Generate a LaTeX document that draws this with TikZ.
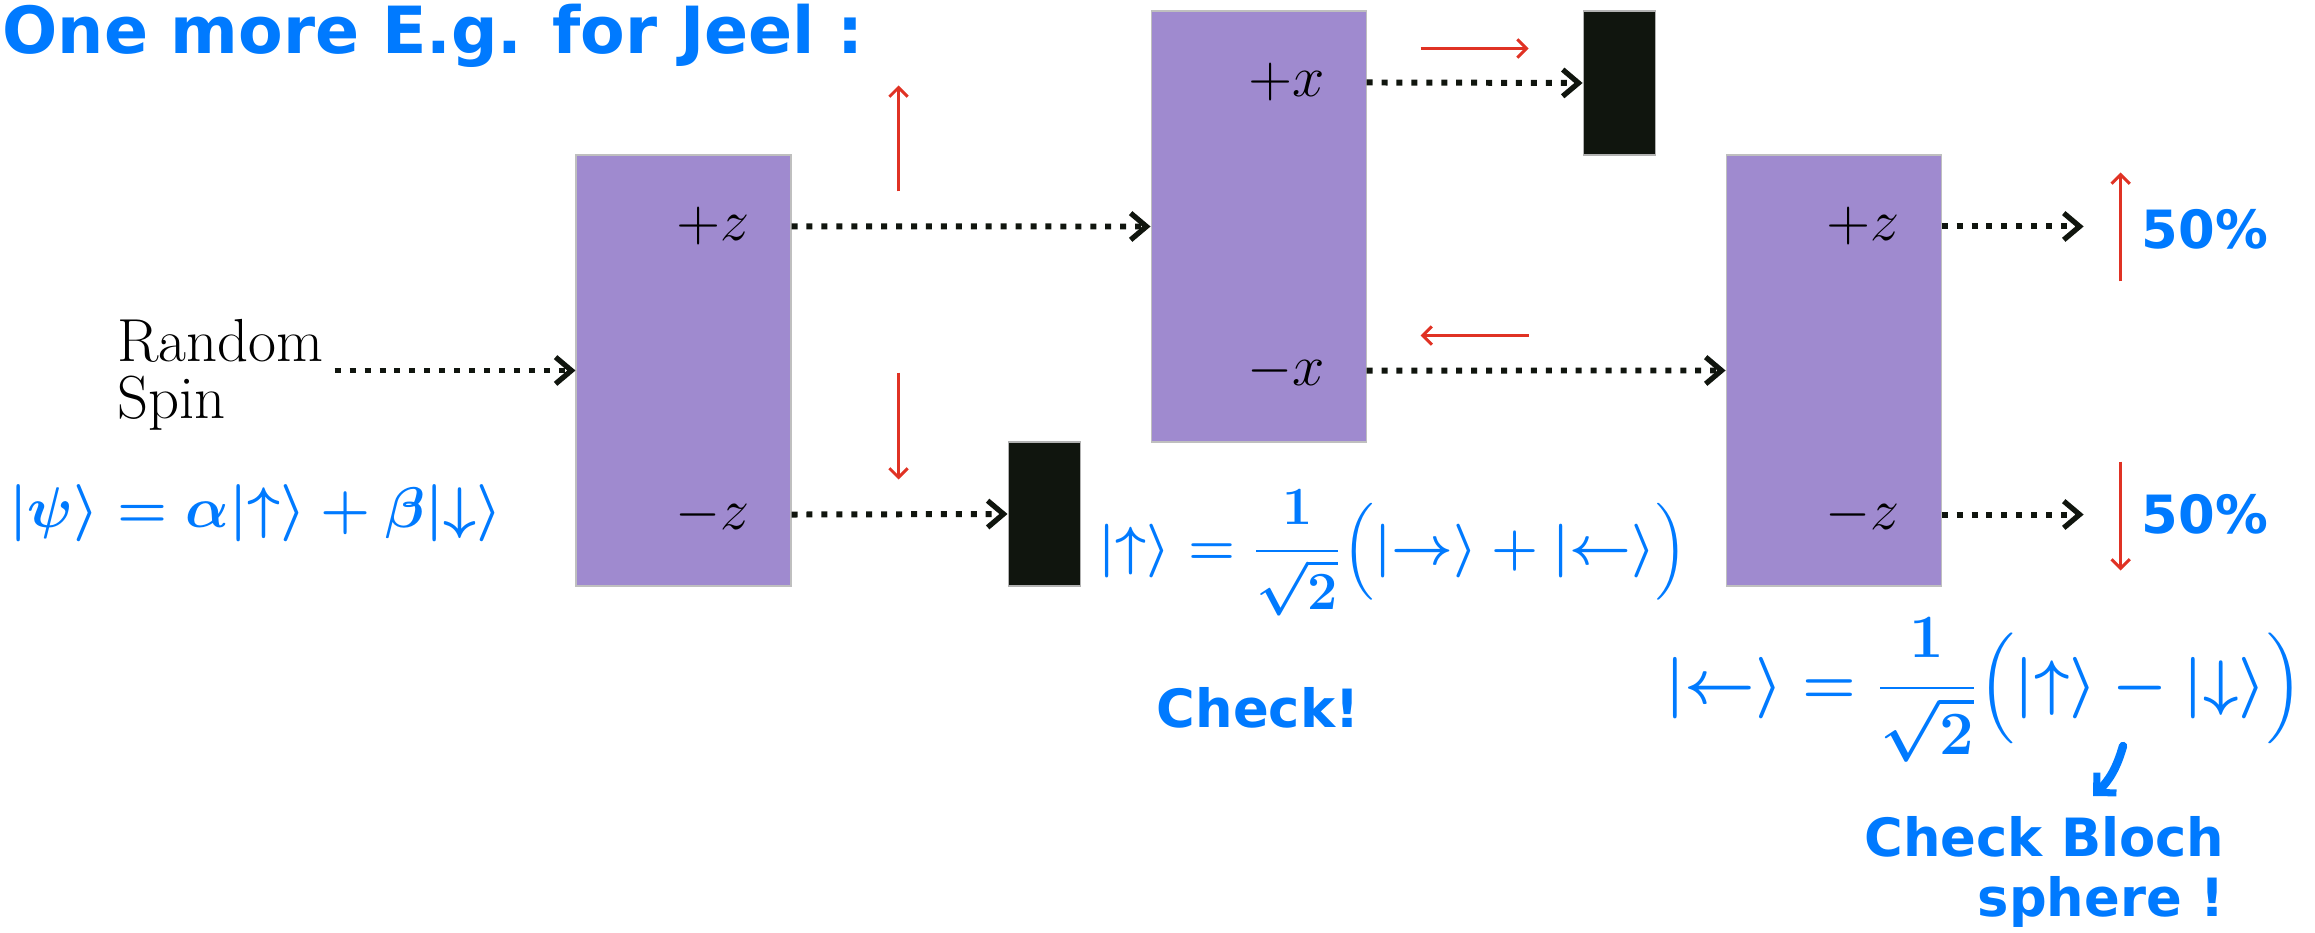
\RequirePackage{fix-cm}
\documentclass[tikz,border=0pt]{standalone}
\usepackage{amsmath,amssymb}
\usepackage{fontspec}
\usepackage{xcolor}
\usepackage{tikz}
\usetikzlibrary{positioning, arrows.meta, calc}

\newfontfamily\handfont{DejaVu Sans}
\definecolor{sgpurple}{RGB}{159,138,207}
\definecolor{sgblock}{RGB}{16,21,14}
\definecolor{spinred}{RGB}{224,50,36}
\definecolor{inkblue}{RGB}{0,122,255}

\begin{document}
\begin{tikzpicture}[
    every node/.style={font=\fontsize{16.5}{15.9}\selectfont},
    sg/.style={fill=sgpurple, draw=black!25, line width=0.3pt, minimum width=2.15cm, minimum height=4.31cm, inner sep=0pt},
    stopper/.style={fill=sgblock, draw=black!30, line width=0.3pt, minimum width=0.72cm, minimum height=1.44cm, inner sep=0pt},
    port/.style={anchor=east, inner sep=0pt},
    beam/.style={-{Straight Barb[length=4.5pt, width=7.6pt, line width=1.5pt]}, line width=1.7pt, dash pattern=on 1.7pt off 2.55pt, sgblock},
    spin/.style={-{Straight Barb[length=2.6pt, width=5.2pt]}, line width=0.85pt, spinred},
    ink/.style={text=inkblue, inner sep=0pt, font=\fontsize{15}{17}\selectfont\handfont\bfseries},
    inkmath/.style={text=inkblue, inner sep=0pt, font=\fontsize{#1}{18}\selectfont\boldmath},
    inkmath/.default=16,
    inkarrow/.style={-{Straight Barb[length=4pt, width=8pt, line width=2pt]}, line width=2.4pt, line cap=round, inkblue},
  ]
  \useasboundingbox (0,0) rectangle (23.15,9.32);

  % --- Stern-Gerlach devices ---
  \node[sg] (sgz1) at (6.835,5.615) {};
  \node[sg, right=3.59cm of sgz1, yshift=1.44cm] (sgx) {};
  \node[sg, right=3.59cm of sgx, yshift=-1.44cm] (sgz2) {};

  % --- Blockers ---
  \node[stopper, anchor=south west] (stop1) at ([xshift=2.16cm]sgz1.south east) {};
  \node[stopper, anchor=north west] (stop2) at ([xshift=2.16cm]sgx.north east) {};

  % --- Output ports ---
  \coordinate (z1up) at ([yshift=-0.72cm]sgz1.north east);
  \coordinate (z1dn) at ([yshift=0.72cm]sgz1.south east);
  \coordinate (xup) at ([yshift=-0.72cm]sgx.north east);
  \coordinate (xdn) at ([yshift=0.72cm]sgx.south east);
  \coordinate (z2up) at ([yshift=-0.72cm]sgz2.north east);
  \coordinate (z2dn) at ([yshift=0.72cm]sgz2.south east);
  \coordinate (out1) at ([xshift=1.42cm]z2up);
  \coordinate (out2) at ([xshift=1.42cm]z2dn);

  \node[port] (lz1up) at ([xshift=-0.41cm]z1up) {$+z$};
  \node[port] (lz1dn) at ([xshift=-0.41cm]z1dn) {$-z$};
  \node[port] (lxup) at ([xshift=-0.41cm]xup) {$+x$};
  \node[port] (lxdn) at ([xshift=-0.41cm]xdn) {$-x$};
  \node[port] (lz2up) at ([xshift=-0.41cm]z2up) {$+z$};
  \node[port] (lz2dn) at ([xshift=-0.41cm]z2dn) {$-z$};

  % --- Source ---
  \node[align=left, anchor=west, inner sep=3pt, font=\fontsize{17.3}{16.2}\selectfont] (src) at (1.06,5.57) {Random\\Spin};

  % --- Beams ---
  \draw[beam] (src.east |- sgz1.west) -- (sgz1.west);
  \draw[beam] (z1up) -- (sgx.west);
  \draw[beam] (z1dn) -- (stop1.west);
  \draw[beam] (xup) -- (stop2.west);
  \draw[beam] (xdn) -- (sgz2.west);
  \draw[beam] (z2up) -- (out1);
  \draw[beam] (z2dn) -- (out2);

  % --- Spin directions ---
  \draw[spin] ([xshift=1.07cm, yshift=0.35cm]z1up) -- ++(0,1.06);
  \draw[spin] ([xshift=1.07cm, yshift=1.42cm]z1dn) -- ++(0,-1.07);
  \draw[spin] ([xshift=0.54cm, yshift=0.34cm]xup) -- ++(1.08,0);
  \draw[spin] ([xshift=1.62cm, yshift=0.35cm]xdn) -- ++(-1.08,0);
  \draw[spin] ([xshift=1.79cm, yshift=-0.55cm]z2up) -- ++(0,1.09);
  \draw[spin] ([xshift=1.79cm, yshift=0.53cm]z2dn) -- ++(0,-1.09);

  % --- Handwritten notes ---
  \node[ink, anchor=west, font=\fontsize{18.5}{20}\selectfont\handfont\bfseries] (title) at (0.02,8.96) {One more E.g. for Jeel :};
  \node[ink, anchor=west] (pctup) at (21.41,7.03) {50\%};
  \node[ink, anchor=west] (pctdn) at (21.41,4.18) {50\%};
  \node[inkmath=16.3] (psi) at (2.56,4.19) {$\lvert\psi\rangle = \alpha\lvert\uparrow\rangle + \beta\lvert\downarrow\rangle$};
  \node[inkmath=15.3] (ketup) at (13.93,3.79) {$\lvert\uparrow\rangle = \dfrac{1}{\sqrt{2}}\Bigl(\lvert\rightarrow\rangle + \lvert\leftarrow\rangle\Bigr)$};
  \node[ink] (check) at (12.58,2.24) {Check!};
  \node[inkmath=17.5] (ketleft) at (19.84,2.42) {$\lvert\leftarrow\rangle = \dfrac{1}{\sqrt{2}}\Bigl(\lvert\uparrow\rangle - \lvert\downarrow\rangle\Bigr)$};
  \node[ink, align=right, anchor=east] (bloch) at (22.25,0.6) {Check Bloch\\sphere !};

  \coordinate (hint) at (21.23,1.86);
  \coordinate (hintend) at (20.93,1.36);
  \draw[inkarrow] (hint) to[bend left=15] (hintend);

\end{tikzpicture}
\end{document}
